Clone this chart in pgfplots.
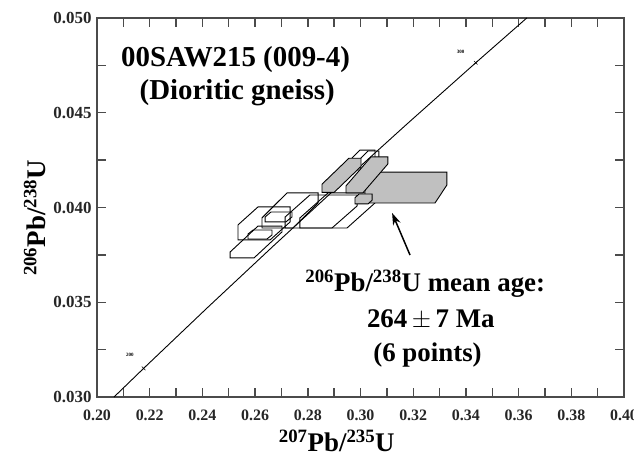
\documentclass[border=0pt]{standalone}
\usepackage{fontspec}
\setmainfont{Liberation Serif}
\usepackage{pgfplots}
\pgfplotsset{compat=1.18}
\usetikzlibrary{arrows.meta}

\definecolor{boxgray}{RGB}{192,192,192}
\definecolor{axgray}{RGB}{75,75,75}

\begin{document}
\begin{tikzpicture}
\begin{axis}[
    scale only axis,
    width=527bp, height=379bp,
    xmin=0.20, xmax=0.40, ymin=0.030, ymax=0.050,
    xtick={0.20,0.22,0.24,0.26,0.28,0.30,0.32,0.34,0.36,0.38,0.40},
    minor xtick={0.21,0.23,0.25,0.27,0.29,0.31,0.33,0.35,0.37,0.39},
    ytick={0.030,0.035,0.040,0.045,0.050},
    minor ytick={0.0325,0.0375,0.0425,0.0475},
    scaled y ticks=false, scaled x ticks=false,
    tick align=inside,
    major tick length=9bp, minor tick length=9bp,
    axis line style={line width=2bp, axgray},
    tick style={line width=1.4bp, axgray},
    /pgf/number format/assume math mode=true,
    xticklabel style={yshift=-9bp, font=\fontsize{16}{16}\selectfont\bfseries, /pgf/number format/fixed, /pgf/number format/fixed zerofill, /pgf/number format/precision=2},
    yticklabel style={xshift=-2bp, font=\fontsize{17}{17}\selectfont\bfseries, /pgf/number format/fixed, /pgf/number format/fixed zerofill, /pgf/number format/precision=3},
    ticklabel style={text=black!85},
    clip=false,
]
% concordia curve (190-315 Ma)
\addplot[black, line width=0.9bp] coordinates {
    (0.20645,0.030000) (0.21770,0.031511) (0.24193,0.034717) (0.26664,0.037932)
    (0.29183,0.041157) (0.31753,0.044392) (0.34374,0.047638) (0.36310,0.050000)};
\addplot[only marks, mark=x, mark size=2.5bp, black, line width=0.6bp]
    coordinates {(0.21770,0.031511) (0.34374,0.047638)};
\node[font=\fontsize{5}{5}\selectfont\bfseries] at (axis cs:0.2125,0.0322) {200};
\node[font=\fontsize{5}{5}\selectfont\bfseries] at (axis cs:0.3380,0.0482) {300};

% white error boxes
\pgfplotsset{wbox/.style={black, line width=0.9bp, no markers}}
\addplot[wbox] coordinates {(0.2968,0.04198) (0.2968,0.04261) (0.2998,0.04303) (0.3055,0.04303) (0.3055,0.04240) (0.3025,0.04198)} --cycle;
\addplot[wbox] coordinates {(0.2998,0.04208) (0.2998,0.04256) (0.3028,0.04298) (0.3070,0.04298) (0.3070,0.04250) (0.3040,0.04208)} --cycle;
\addplot[wbox] coordinates {(0.2505,0.03734) (0.2505,0.03765) (0.2611,0.03902) (0.2702,0.03902) (0.2702,0.03871) (0.2596,0.03734)} --cycle;
\addplot[wbox] coordinates {(0.2535,0.03829) (0.2535,0.03908) (0.2611,0.04003) (0.2733,0.04003) (0.2733,0.03924) (0.2657,0.03829)} --cycle;
\addplot[wbox] coordinates {(0.2573,0.03834) (0.2573,0.03860) (0.2592,0.03881) (0.2664,0.03881) (0.2664,0.03855) (0.2645,0.03834)} --cycle;
\addplot[wbox] coordinates {(0.2638,0.03924) (0.2638,0.03950) (0.2660,0.03976) (0.2740,0.03976) (0.2740,0.03950) (0.2717,0.03924)} --cycle;
\addplot[wbox] coordinates {(0.2626,0.03892) (0.2626,0.03945) (0.2721,0.04077) (0.2839,0.04077) (0.2839,0.04024) (0.2744,0.03892)} --cycle;
\addplot[wbox] coordinates {(0.2714,0.03892) (0.2714,0.03950) (0.2808,0.04066) (0.2987,0.04066) (0.2987,0.04008) (0.2892,0.03892)} --cycle;
\addplot[wbox] coordinates {(0.2770,0.03892) (0.2770,0.03945) (0.2877,0.04077) (0.3055,0.04077) (0.3055,0.04024) (0.2949,0.03892)} --cycle;

% grey error boxes
\pgfplotsset{gbox/.style={black, fill=boxgray, line width=0.9bp, no markers}}
\addplot[gbox] coordinates {(0.3017,0.04024) (0.3017,0.04092) (0.3063,0.04187) (0.3328,0.04187) (0.3328,0.04119) (0.3283,0.04024)} --cycle;
\addplot[gbox] coordinates {(0.2854,0.04080) (0.2854,0.04123) (0.2956,0.04260) (0.3002,0.04260) (0.3002,0.04217) (0.2900,0.04080)} --cycle;
\addplot[gbox] coordinates {(0.2945,0.04077) (0.2945,0.04114) (0.3040,0.04267) (0.3104,0.04267) (0.3104,0.04230) (0.3009,0.04077)} --cycle;
\addplot[gbox] coordinates {(0.2979,0.04019) (0.2979,0.04051) (0.2994,0.04071) (0.3044,0.04071) (0.3044,0.04039) (0.3029,0.04019)} --cycle;

\draw[-{Stealth[length=12bp,width=8bp]}, line width=1.5bp] (axis cs:0.3188,0.03749) -- (axis cs:0.3120,0.03971);

% texts
\node[font=\fontsize{29}{32}\selectfont\bfseries, anchor=base west, inner sep=0pt] at (rel axis cs:0.0455,0.871) {00SAW215 (009-4)};
\node[font=\fontsize{29}{32}\selectfont\bfseries, anchor=base, inner sep=0pt] at (rel axis cs:0.266,0.784) {(Dioritic gneiss)};
\node[font=\fontsize{27}{30}\selectfont\bfseries, anchor=west, inner sep=0pt] at (rel axis cs:0.395,0.298) {\textsuperscript{206}Pb/\textsuperscript{238}U mean age:};
\node[font=\fontsize{27}{30}\selectfont\bfseries, anchor=west, inner sep=0pt] at (rel axis cs:0.512,0.203) {264\,$\pm$\,7 Ma};
\node[font=\fontsize{27}{30}\selectfont\bfseries, anchor=west, inner sep=0pt] at (rel axis cs:0.524,0.110) {(6 points)};
\node[font=\fontsize{27}{30}\selectfont\bfseries] at (rel axis cs:0.455,-0.115) {\textsuperscript{207}Pb/\textsuperscript{235}U};
\node[font=\fontsize{27}{30}\selectfont\bfseries, rotate=90] at (rel axis cs:-0.118,0.472) {\textsuperscript{206}Pb/\textsuperscript{238}U};

\coordinate (sw) at (rel axis cs:0,0);
\end{axis}
\pgfresetboundingbox
\path[use as bounding box] (sw) ++(-97bp,-59bp) rectangle ++(634bp,456bp);
\end{tikzpicture}
\end{document}
